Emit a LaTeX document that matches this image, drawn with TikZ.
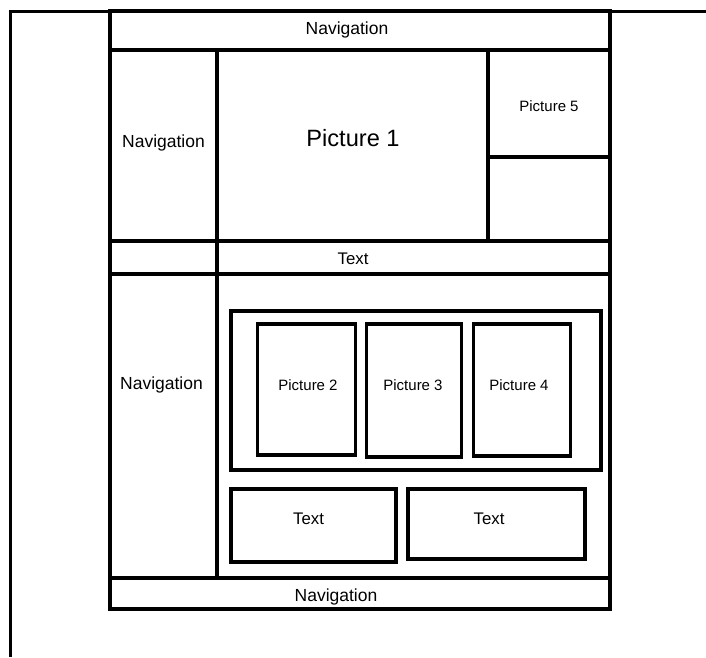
\documentclass[tikz,border=0pt]{standalone}
\usepackage{fontspec}
\setmainfont{Liberation Sans}
\usetikzlibrary{positioning}
\tikzset{
  wireBox/.style args={#1x#2}{
    draw=black,
    line width=4pt,
    anchor=north west,
    inner sep=0pt,
    outer sep=0pt,
    minimum width=#1pt,
    minimum height=#2pt
  },
  thinBox/.style={wireBox=#1, line width=3.5pt},
  navLabel/.style={font=\fontsize{17.5}{18}\selectfont, anchor=base, inner sep=0pt},
  textLabel/.style={font=\fontsize{16.8}{18}\selectfont, anchor=base, inner sep=0pt},
  picLabel/.style={font=\fontsize{15}{16}\selectfont, anchor=base, inner sep=0pt},
  bigLabel/.style={font=\fontsize{23.6}{25}\selectfont, anchor=base, inner sep=0pt},
  frameLine/.style={black, line width=3pt}
}
\begin{document}
\begin{tikzpicture}[x=1pt,y=-1pt]
  \useasboundingbox (0,0) rectangle (706,657);
  % page frame
  \draw[frameLine] (706,11) -- (10,11) -- (10,657);
  % header
  \node[wireBox=500x39] (topNav) at (110,11) {};
  \node[navLabel] (topNavText) at (347,34) {Navigation};
  % first row
  \node[wireBox=107x191] (sideNavA) at (110,50) {};
  \node[navLabel] (sideNavAText) at (163.5,147) {Navigation};
  \node[wireBox=271x191] (picOne) at (217,50) {};
  \node[bigLabel] (picOneText) at (353,146.5) {Picture 1};
  \node[wireBox=122x107] (picFive) at (488,50) {};
  \node[picLabel] (picFiveText) at (549,111) {Picture 5};
  \node[wireBox=122x84] (picSpare) at (488,157) {};
  % text row
  \node[wireBox=107x33] (sideGap) at (110,241) {};
  \node[wireBox=393x33] (textRow) at (217,241) {};
  \node[textLabel] (textRowText) at (353,264) {Text};
  % second row
  \node[wireBox=107x304] (sideNavB) at (110,274) {};
  \node[navLabel] (sideNavBText) at (161.5,389) {Navigation};
  \node[wireBox=393x304] (content) at (217,274) {};
  \node[thinBox=370x159] (gallery) at (231,311) {};
  \foreach \name/\x/\w/\h/\lx/\n in {picTwo/257.5/98/131/308/2,
      picThree/366.5/95/133/413/3, picFour/473.5/97/132/519/4} {
    \node[thinBox=\w x\h] (\name) at (\x,324) {};
    \node[picLabel] (\name Text) at (\lx,390) {Picture \n};
  }
  \node[thinBox=165x73] (textLeft) at (231,489) {};
  \node[textLabel] (textLeftText) at (308.5,524) {Text};
  \node[thinBox=177x70] (textRight) at (408,489) {};
  \node[textLabel] (textRightText) at (489,524) {Text};
  % footer
  \node[wireBox=500x31] (bottomNav) at (110,578) {};
  \node[navLabel] (bottomNavText) at (336,601) {Navigation};
\end{tikzpicture}
\end{document}
